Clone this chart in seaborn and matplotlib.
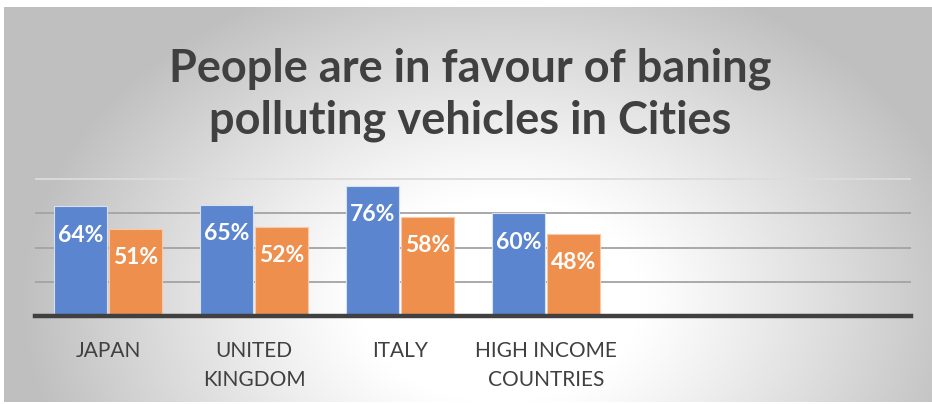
import numpy as np
import pandas as pd
import matplotlib
matplotlib.use("Agg")
import matplotlib.pyplot as plt
import seaborn as sns

# Chart data
categories = ["JAPAN", "UNITED\nKINGDOM", "ITALY", "HIGH INCOME\nCOUNTRIES", " ", "  "]
series_a = [64, 65, 76, 60]
series_b = [51, 52, 58, 48]
series_names = ["Series A", "Series B"]
title = "People are in favour of baning\npolluting vehicles in Cities"

df = pd.DataFrame({
    "category": categories[:4] * 2,
    "series": [series_names[0]] * 4 + [series_names[1]] * 4,
    "value": series_a + series_b,
})

sns.set_theme(style="white")
plt.rcParams["font.family"] = ["Lato", "DejaVu Sans"]

W, H = 932, 404
fig = plt.figure(figsize=(W / 100, H / 100), dpi=100, facecolor="white")

# Radial grey-to-white backdrop
bg = fig.add_axes([4 / W, 2 / H, 928 / W, 395 / H], zorder=-10)
yy, xx = np.mgrid[0:395, 0:928]
px = xx + 4
py = yy + 7
r = np.sqrt(((px - 500) / 470) ** 2 + ((py - 300) / 340) ** 2)
t = np.clip((r - 0.3) / 0.72, 0, 1)
g = 1 - 0.25 * t ** 1.1
bg.imshow(np.dstack([g, g, g]), aspect="auto", extent=(0, 1, 0, 1), origin="upper")
bg.set_axis_off()

# Plot area
x0, x1 = 35, 911
y_zero, y_top = 316, 179
ymax = 80.6
pp = (y_zero - y_top) / 80
top_px = y_zero - ymax * pp
ax = fig.add_axes([x0 / W, (H - y_zero) / H, (x1 - x0) / W, (y_zero - top_px) / H])
ax.patch.set_alpha(0)

palette = {series_names[0]: "#5B86CF", series_names[1]: "#EE8F4E"}
sns.barplot(data=df, x="category", y="value", hue="series", order=categories,
            palette=palette, width=0.75, gap=0.02, saturation=1,
            edgecolor="#D6E0F3", linewidth=0.8, legend=False, ax=ax, zorder=3)
for bar in ax.patches:
    fc = bar.get_facecolor()
    if fc[0] > 0.8:
        bar.set_edgecolor("#F8C9A8")

ax.set_ylim(0, ymax)
ax.set_xlim(-0.5, len(categories) - 0.5)

# Value labels inside the bars
for cont in ax.containers:
    for bar, v in zip(cont.patches, cont.datavalues):
        if np.isnan(v):
            continue
        ax.annotate(f"{int(v)}%", (bar.get_x() + bar.get_width() / 2, v),
                    xytext=(0, -29), textcoords="offset pixels",
                    ha="center", va="center", color="white",
                    fontsize=16.5, fontweight="bold", zorder=5)

# Gridlines
for v in [20, 40, 60]:
    ax.axhline(v, color="#A3A3A3", lw=1.3, zorder=1)
ax.axhline(80, color="#DCDCDC", lw=1.3, zorder=1)

for s in ["left", "right", "top"]:
    ax.spines[s].set_visible(False)
ax.spines["bottom"].set_color("#404040")
ax.spines["bottom"].set_linewidth(3.2)
ax.spines["bottom"].set_zorder(6)
ax.set_yticks([])
ax.set_xlabel("")
ax.set_ylabel("")
ax.tick_params(axis="x", length=0, pad=18, labelsize=15, labelcolor="#404040")
for lab in ax.get_xticklabels():
    lab.set_linespacing(1.55)

fig.text(470 / W, 1 - 95 / H, title, ha="center", va="center",
         fontsize=32.5, fontweight="bold", color="#404040", linespacing=1.27)

fig.savefig("out.png", dpi=100, facecolor="white")
